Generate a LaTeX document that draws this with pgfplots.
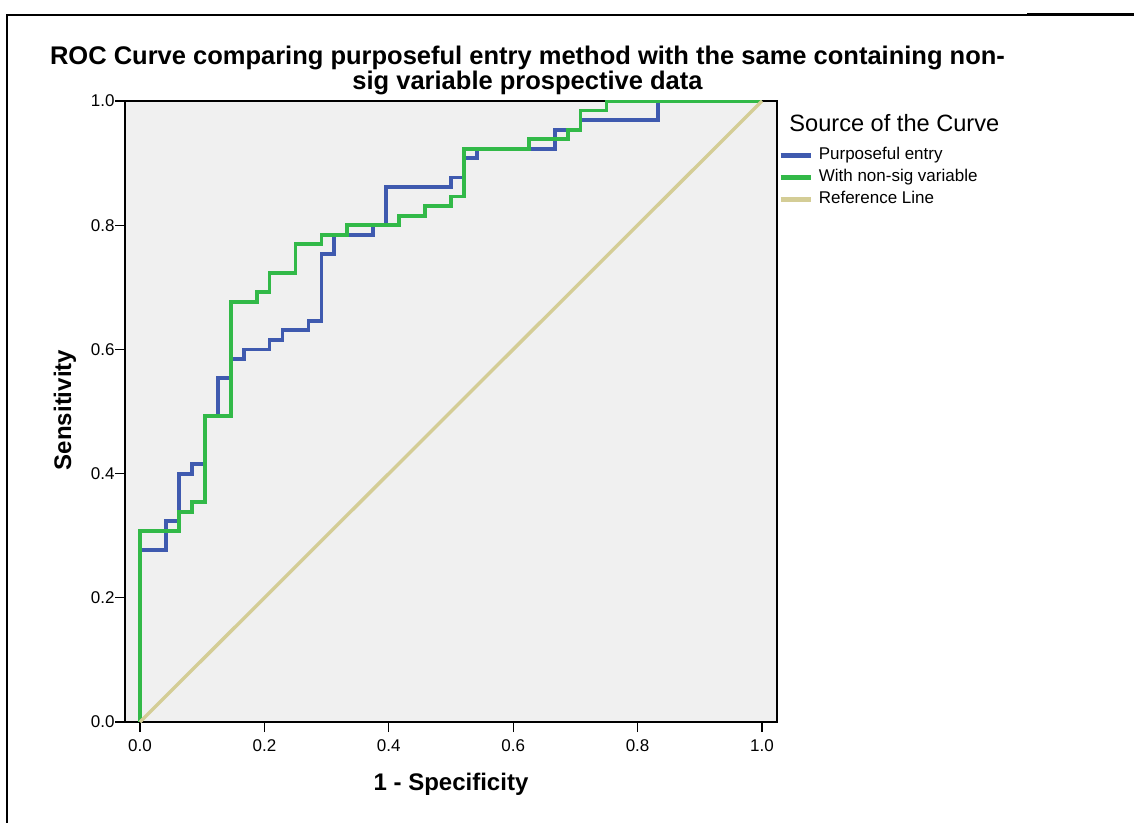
\documentclass[border=0pt]{standalone}
\usepackage{fontspec}
\setmainfont{Liberation Sans}
\usepackage{pgfplots}
\pgfplotsset{compat=1.18}

\definecolor{rocblue}{RGB}{63,90,175}
\definecolor{rocgreen}{RGB}{50,185,72}
\definecolor{refline}{RGB}{212,205,150}
\definecolor{plotbg}{RGB}{240,240,240}

\begin{document}
\begin{tikzpicture}
\useasboundingbox (0,0) rectangle (567pt,-411.5pt);
% outer frame of the exported figure
\draw[black, line width=0.6pt] (3.5pt,-411.5pt) -- (3.5pt,-7.5pt) -- (513.5pt,-7.5pt);
\draw[black, line width=1.1pt] (513.5pt,-7.3pt) -- (567pt,-7.3pt);

\begin{axis}[
  at={(62.5pt,-361pt)}, anchor=south west,
  scale only axis, width=326pt, height=310.5pt,
  xmin=-0.0241, xmax=1.0241, ymin=0, ymax=1,
  axis background/.style={fill=plotbg},
  axis line style={black, line width=0.6pt},
  xtick={0,0.2,0.4,0.6,0.8,1.0}, ytick={0,0.2,0.4,0.6,0.8,1.0},
  xtick pos=bottom, ytick pos=left,
  tick align=outside, major tick length=5pt,
  tick style={black, line width=0.6pt},
  /pgf/number format/.cd, fixed, fixed zerofill, precision=1, assume math mode=true, /pgfplots/.cd,
  tick label style={font=\fontsize{8.5}{10}\selectfont},
  yticklabel style={inner sep=0pt},
  xticklabel style={inner sep=0.5pt, yshift=-3pt},
  legend style={draw=none, fill=none, at={(axis description cs:1,1)}, anchor=north west,
    xshift=0.5pt, yshift=-21.5pt, inner sep=0pt,
    font=\fontsize{8.5}{10}\selectfont,
    nodes={inner sep=0pt, text height=7.5pt, text depth=3.5pt},
    /tikz/every odd column/.append style={column sep=3pt}},
  legend cell align=left,
  legend image code/.code={\draw[#1, line width=2.2pt] (0pt,0pt) -- (15pt,0pt);},
]
\addplot[rocblue, line width=1.9pt, line join=miter] coordinates {
(0,0) (0,0.2769) (0.0417,0.2769) (0.0417,0.3231) (0.0625,0.3231) (0.0625,0.4000)
(0.0833,0.4000) (0.0833,0.4154) (0.1042,0.4154) (0.1042,0.4923) (0.1250,0.4923)
(0.1250,0.5538) (0.1458,0.5538) (0.1458,0.5846) (0.1667,0.5846) (0.1667,0.6000)
(0.2083,0.6000) (0.2083,0.6154) (0.2292,0.6154) (0.2292,0.6308) (0.2708,0.6308)
(0.2708,0.6462) (0.2917,0.6462) (0.2917,0.7538) (0.3125,0.7538) (0.3125,0.7846)
(0.3750,0.7846) (0.3750,0.8000) (0.3958,0.8000) (0.3958,0.8615) (0.5000,0.8615)
(0.5000,0.8769) (0.5208,0.8769) (0.5208,0.9077) (0.5417,0.9077) (0.5417,0.9231)
(0.6667,0.9231) (0.6667,0.9538) (0.7083,0.9538) (0.7083,0.9692) (0.8333,0.9692)
(0.8333,1) (1,1)};
\addlegendentry{Purposeful entry}
\addplot[rocgreen, line width=1.9pt, line join=miter] coordinates {
(0,0) (0,0.3077) (0.0625,0.3077) (0.0625,0.3385) (0.0833,0.3385) (0.0833,0.3538)
(0.1042,0.3538) (0.1042,0.4923) (0.1458,0.4923) (0.1458,0.6769) (0.1875,0.6769)
(0.1875,0.6923) (0.2083,0.6923) (0.2083,0.7231) (0.2500,0.7231) (0.2500,0.7692)
(0.2917,0.7692) (0.2917,0.7846) (0.3333,0.7846) (0.3333,0.8000) (0.4167,0.8000)
(0.4167,0.8154) (0.4583,0.8154) (0.4583,0.8308) (0.5000,0.8308) (0.5000,0.8462)
(0.5208,0.8462) (0.5208,0.9231) (0.6250,0.9231) (0.6250,0.9385) (0.6875,0.9385)
(0.6875,0.9538) (0.7083,0.9538) (0.7083,0.9846) (0.7500,0.9846) (0.7500,1) (1,1)};
\addlegendentry{With non-sig variable}
\addplot[refline, line width=1.7pt] coordinates {(0,0) (1,1)};
\addlegendentry{Reference Line}
\end{axis}

% title, axis labels, legend heading
\node[font=\fontsize{12.75}{12.5}\selectfont\bfseries, align=center] at (263.75pt,-35pt)
  {ROC Curve comparing purposeful entry method with the same containing non-\\sig variable prospective data};
\node[font=\fontsize{12}{13}\selectfont\bfseries] at (225.5pt,-392pt) {1 - Specificity};
\node[font=\fontsize{12}{13}\selectfont\bfseries, rotate=90] at (32.5pt,-205pt) {Sensitivity};
\node[font=\fontsize{11.8}{13}\selectfont, anchor=west, inner sep=0pt] at (394.5pt,-61.5pt) {Source of the Curve};
\end{tikzpicture}
\end{document}
